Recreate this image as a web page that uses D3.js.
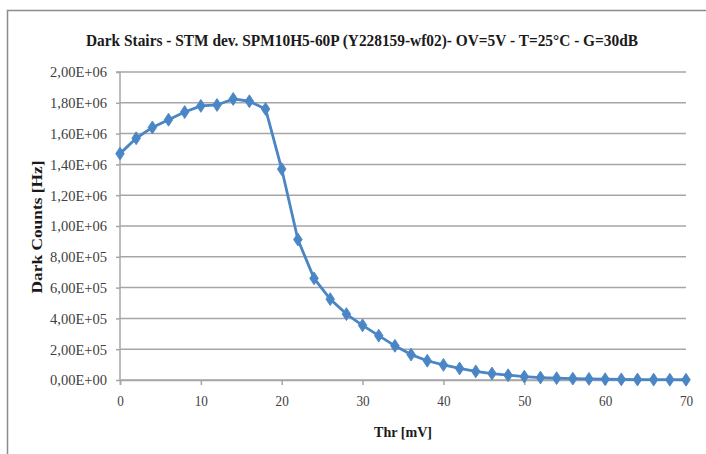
<!DOCTYPE html>
<html><head><meta charset="utf-8">
<script src="https://cdn.jsdelivr.net/npm/d3@7"></script>
<style>html,body{margin:0;padding:0;background:#fff;}svg{display:block;}</style>
</head><body>
<script>
const thr = [0,2,4,6,8,10,12,14,16,18,20,22,24,26,28,30,32,34,36,38,40,42,44,46,48,50,52,54,56,58,60,62,64,66,68,70];
const counts = [1.47e6,1.57e6,1.64e6,1.69e6,1.74e6,1.78e6,1.786e6,1.825e6,1.81e6,1.76e6,1.37e6,0.912e6,0.66e6,0.525e6,0.428e6,0.355e6,0.288e6,0.222e6,0.165e6,0.125e6,0.098e6,0.075e6,0.056e6,0.042e6,0.031e6,0.022e6,0.016e6,0.012e6,0.009e6,0.007e6,0.005e6,0.004e6,0.003e6,0.0025e6,0.002e6,0.0015e6];
const yTicks = [0,2e5,4e5,6e5,8e5,1e6,1.2e6,1.4e6,1.6e6,1.8e6,2e6];
const yTickLabels = ["0,00E+00","2,00E+05","4,00E+05","6,00E+05","8,00E+05","1,00E+06","1,20E+06","1,40E+06","1,60E+06","1,80E+06","2,00E+06"];
const xTicks = [0,10,20,30,40,50,60,70];
const title = "Dark Stairs - STM dev. SPM10H5-60P (Y228159-wf02)- OV=5V - T=25°C - G=30dB";
const xTitle = "Thr [mV]";
const yTitle = "Dark Counts [Hz]";

const W = 706, H = 454;
const svg = d3.select("body").append("svg").attr("width", W).attr("height", H);
const font = "'Liberation Serif', 'DejaVu Serif', serif";

// frame
svg.append("path").attr("d", `M7.5,${H} L7.5,10.5 L${W},10.5`).attr("fill","none").attr("stroke","#8c8c8c").attr("stroke-width",1.5);

const x = d3.scaleLinear().domain([0,70]).range([120,686]);
const y = d3.scaleLinear().domain([0,2e6]).range([380,72]);

// gridlines
svg.append("g").selectAll("line").data(yTicks).join("line")
  .attr("x1", x(0)).attr("x2", x(70)).attr("y1", d=>y(d)).attr("y2", d=>y(d))
  .attr("stroke","#a6a6a6").attr("stroke-width",1.5);

// y axis
const yAxis = svg.append("g").attr("transform",`translate(${x(0)},0)`)
  .call(d3.axisLeft(y).tickValues(yTicks).tickSize(4).tickPadding(9).tickFormat((d,i)=>yTickLabels[i]));
yAxis.select(".domain").attr("stroke","#a6a6a6").attr("stroke-width",1.5).attr("d",`M-4,${y(2e6)}H0V${y(0)}`);
yAxis.selectAll(".tick line").attr("stroke","#a6a6a6").attr("stroke-width",1.5);
yAxis.selectAll(".tick text").attr("font-family",font).attr("font-size",15).attr("fill","#404040")
  .attr("textLength",57).attr("lengthAdjust","spacingAndGlyphs");

// x axis
const xAxis = svg.append("g").attr("transform",`translate(0,${y(0)})`)
  .call(d3.axisBottom(x).tickValues(xTicks).tickSize(5).tickPadding(10).tickFormat(d3.format("d")));
xAxis.select(".domain").attr("stroke","#a6a6a6").attr("stroke-width",1.5);
xAxis.selectAll(".tick line").attr("stroke","#a6a6a6").attr("stroke-width",1.5);
xAxis.selectAll(".tick text").attr("font-family",font).attr("font-size",15).attr("fill","#404040")
  .each(function(d){ d3.select(this).attr("textLength", String(d).length*6.6).attr("lengthAdjust","spacingAndGlyphs"); });

// line
const line = d3.line().x((d,i)=>x(thr[i])).y(d=>y(d));
svg.append("path").datum(counts).attr("d", line).attr("fill","none")
  .attr("stroke","#4a86c5").attr("stroke-width",2.8).attr("stroke-linejoin","round");

// markers
const sym = d3.symbol().type(d3.symbolDiamond).size(48);
svg.append("g").selectAll("path").data(counts).join("path")
  .attr("d", sym).attr("transform",(d,i)=>`translate(${x(thr[i])},${y(d)}) scale(1.15,1)`)
  .attr("fill","#4a86c5").attr("stroke","#4a86c5").attr("stroke-width",0.8);

// title
svg.append("text").attr("x",362).attr("y",46).attr("text-anchor","middle")
  .attr("font-family",font).attr("font-weight","bold").attr("font-size",16.5).attr("fill","#1a1a1a")
  .attr("textLength",552).attr("lengthAdjust","spacingAndGlyphs").text(title);

// axis titles
svg.append("text").attr("x",403).attr("y",437).attr("text-anchor","middle")
  .attr("font-family",font).attr("font-weight","bold").attr("font-size",15).attr("fill","#1a1a1a")
  .attr("textLength",58).attr("lengthAdjust","spacingAndGlyphs").text(xTitle);
svg.append("text").attr("transform","translate(42,227) rotate(-90)").attr("text-anchor","middle")
  .attr("font-family",font).attr("font-weight","bold").attr("font-size",15).attr("fill","#1a1a1a")
  .attr("textLength",133).attr("lengthAdjust","spacingAndGlyphs").text(yTitle);
</script>
</body></html>
